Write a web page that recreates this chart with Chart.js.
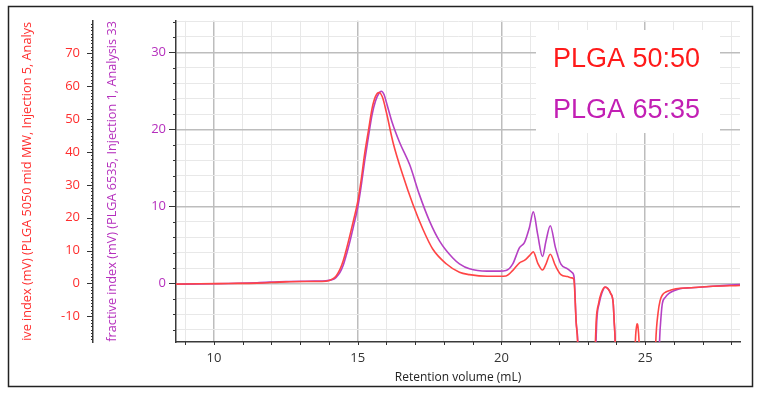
<!DOCTYPE html>
<html>
<head>
<meta charset="utf-8">
<script src="https://cdn.jsdelivr.net/npm/chart.js@4.4.1/dist/chart.umd.min.js"></script>
<style>
html,body{margin:0;padding:0;background:#fff;}
#wrap{position:relative;width:757px;height:394px;}
</style>
</head>
<body>
<div id="wrap"><canvas id="c" width="757" height="394"></canvas></div>
<script>
// ---- Data (retention volume in mL, signal in mV) ----
const redX = [8.68,9.5,10.5,11.5,12.5,13.5,13.9,14.13,14.25,14.38,14.5,14.62,14.74,14.86,15.0,15.12,15.24,15.38,15.5,15.62,15.74,15.86,16.0,16.23,16.57,16.92,17.27,17.61,18.08,18.54,18.89,19.5,19.93,20.16,20.39,20.63,20.8,20.97,21.11,21.26,21.43,21.55,21.7,21.88,22.07,22.3,22.45,22.52,22.6,22.65,22.75,23.1,23.2,23.27,23.3,23.38,23.47,23.6,23.8,23.89,23.92,23.96,24.05,24.4,24.62,24.66,24.7,24.72,24.75,24.79,24.85,25.2,25.32,25.37,25.45,25.52,25.6,25.72,25.9,26.07,26.6,27.22,28.3];
const redY = [-0.2,-0.1,0,0.1,0.5,0.6,0.7,1.4,2.3,4.2,7.0,10.8,15.0,19.4,24.8,31.4,39.3,46.8,53.2,56.9,58.1,56.7,52.0,42.9,33.0,24.1,16.5,10.5,6.0,3.4,2.7,2.2,2.2,2.3,3.9,6.3,7.0,8.4,9.6,6.3,4.1,5.9,8.9,5.4,2.7,2.1,1.7,1.2,-11.7,-17.8,-47,-70,-35,-17.8,-11,-6.1,-3.0,-1.1,-3.0,-6.1,-11,-17.8,-47,-70,-35,-17.8,-13.1,-12.3,-13.1,-17.8,-35,-70,-35,-17.8,-8.9,-5.2,-3.5,-2.6,-2.0,-1.6,-1.3,-0.9,-0.6];
const purpleX = [8.68,9.5,10.5,11.5,12.5,13.5,13.9,14.13,14.25,14.38,14.5,14.62,14.74,14.86,15.0,15.12,15.24,15.38,15.5,15.62,15.74,15.82,15.92,16.0,16.2,16.46,16.81,17.15,17.5,17.85,18.31,18.54,18.89,19.5,19.93,20.16,20.39,20.63,20.8,20.97,21.11,21.26,21.43,21.55,21.7,21.88,22.07,22.3,22.45,22.53,22.6,22.66,22.75,23.1,23.22,23.29,23.32,23.4,23.49,23.61,23.8,23.89,23.92,23.96,24.05,24.8,25.35,25.45,25.5,25.56,25.6,25.7,25.83,26.0,26.18,26.6,27.22,28.3];
const purpleY = [-0.1,-0.05,0,0.1,0.25,0.3,0.35,0.5,0.8,1.4,2.4,3.9,5.6,7.5,9.8,12.6,15.8,19.2,21.9,23.7,24.7,24.96,24.5,23.5,20.9,18.3,15.4,11.5,8.1,5.5,3.3,2.55,1.9,1.6,1.6,1.67,2.5,4.65,5.3,7.2,9.3,6.4,3.5,5.5,7.5,4.65,2.5,1.9,1.45,0.8,-5,-7.6,-20,-30,-15,-7.6,-4.7,-2.6,-1.3,-0.47,-1.3,-2.6,-4.7,-7.6,-20,-30,-30,-15,-7.6,-4,-2.6,-1.8,-1.3,-0.95,-0.7,-0.55,-0.4,-0.13];
const seriesNames = ["PLGA 50:50", "PLGA 65:35"];
const xTitle = "Retention volume (mL)";
const redAxisTitle = "ive index (mV) (PLGA 5050 mid MW, Injection 5, Analys";
const purpleAxisTitle = "fractive index (mV) (PLGA 6535, Injection 1, Analysis 33";
const xRange = [8.68, 28.3];
const purpleRange = [-7.6, 34.1];
const redRange = [-17.8, 79.9];

const RED = '#ff4545', PURPLE = '#b541c4';
const RED_TXT = '#ff2e2e', PURPLE_TXT = '#b52fbd';
const FONT = "'Open Sans', 'DejaVu Sans', sans-serif";

function pts(xs, ys){ return xs.map((x,i)=>({x:x, y:ys[i]})); }

const decor = {
  id:'decor',
  beforeDraw(chart){
    const ctx = chart.ctx;
    ctx.save();
    ctx.fillStyle='#fff';
    ctx.fillRect(0,0,chart.width,chart.height);
    ctx.restore();
  },
  afterDraw(chart){
    const ctx = chart.ctx;
    const ca = chart.chartArea;
    const sx = chart.scales.x, sp = chart.scales.yP, sr = chart.scales.yR;
    ctx.save();
    ctx.strokeStyle = '#333';
    ctx.lineWidth = 1;
    for (let v = Math.ceil(sx.min); v <= sx.max; v++) {
      const px = Math.round(sx.getPixelForValue(v)) + 0.5;
      ctx.beginPath(); ctx.moveTo(px, ca.bottom); ctx.lineTo(px, ca.bottom + 3); ctx.stroke();
    }
    for (let v = Math.ceil(sp.min/2)*2; v <= sp.max; v += 2) {
      const py = Math.round(sp.getPixelForValue(v)) + 0.5;
      const len = (v % 10 === 0) ? 7 : 3;
      ctx.beginPath(); ctx.moveTo(sp.right - len, py); ctx.lineTo(sp.right, py); ctx.stroke();
    }
    for (let v = Math.ceil(sr.min); v <= sr.max; v++) {
      const py = Math.round(sr.getPixelForValue(v)) + 0.5;
      const len = (v % 10 === 0) ? 6 : 2;
      ctx.beginPath(); ctx.moveTo(sr.right - len, py); ctx.lineTo(sr.right, py); ctx.stroke();
    }
    // legend box
    ctx.fillStyle = '#fff';
    ctx.fillRect(536, 30, 184, 103);
    ctx.font = "27px 'Liberation Sans', Arial, sans-serif";
    ctx.textBaseline = 'alphabetic';
    ctx.fillStyle = '#ff1a1a';
    ctx.fillText(seriesNames[0], 553, 67);
    ctx.fillStyle = '#c21fb4';
    ctx.fillText(seriesNames[1], 553, 118);
    // frame
    ctx.strokeStyle = '#222';
    ctx.lineWidth = 1.5;
    ctx.strokeRect(8.5, 6.5, 744, 380);
    ctx.restore();
  }
};

new Chart(document.getElementById('c'), {
  type: 'line',
  data: {
    datasets: [
      { label: seriesNames[0], data: pts(redX, redY), yAxisID: 'yR', borderColor: RED, borderWidth: 1.6, pointRadius: 0, cubicInterpolationMode: 'monotone', fill: false },
      { label: seriesNames[1], data: pts(purpleX, purpleY), yAxisID: 'yP', borderColor: PURPLE, borderWidth: 1.6, pointRadius: 0, cubicInterpolationMode: 'monotone', fill: false }
    ]
  },
  options: {
    responsive: false,
    animation: false,
    layout: { padding: { left: 10, right: 17, top: 17, bottom: 7 } },
    plugins: { legend: { display: false }, tooltip: { enabled: false } },
    scales: {
      x: {
        type: 'linear', min: xRange[0], max: xRange[1],
        afterFit(s){ s.height = 45; },
        border: { color: '#3a3a3a', width: 1.5 },
        grid: {
          drawTicks: false,
          color: ctx => (ctx.tick && ctx.tick.value % 5 === 0) ? '#bdbdbd' : '#e8e8e8',
          lineWidth: ctx => (ctx.tick && ctx.tick.value % 5 === 0) ? 1.5 : 1
        },
        ticks: {
          stepSize: 1, includeBounds: false, autoSkip: false, maxRotation: 0,
          padding: 8, color: '#333', font: { family: FONT, size: 13 },
          callback: v => (v % 5 === 0) ? String(v) : ''
        },
        title: { display: true, text: xTitle, color: '#222', font: { family: FONT, size: 12 }, padding: { top: 0, bottom: 2 } }
      },
      yP: {
        type: 'linear', position: 'left', weight: 1,
        min: purpleRange[0], max: purpleRange[1],
        afterFit(s){ s.width = 83; },
        border: { color: '#3a3a3a', width: 1.5 },
        grid: {
          drawTicks: false,
          color: ctx => (ctx.tick && ctx.tick.value % 10 === 0) ? '#bdbdbd' : '#e8e8e8',
          lineWidth: ctx => (ctx.tick && ctx.tick.value % 10 === 0) ? 1.5 : 1
        },
        ticks: {
          stepSize: 2, includeBounds: false, autoSkip: false,
          padding: 10, color: PURPLE_TXT, font: { family: FONT, size: 13 },
          callback: v => (v % 10 === 0) ? String(v) : ''
        },
        title: { display: true, text: purpleAxisTitle, color: PURPLE_TXT, font: { family: FONT, size: 12.7 }, padding: { top: 12, bottom: 0 } }
      },
      yR: {
        type: 'linear', position: 'left', weight: 2,
        min: redRange[0], max: redRange[1],
        afterFit(s){ s.width = 83; },
        border: { color: '#3a3a3a', width: 1.5 },
        grid: { drawTicks: false, drawOnChartArea: false },
        ticks: {
          stepSize: 10, includeBounds: false, autoSkip: false,
          padding: 13, color: RED_TXT, font: { family: FONT, size: 13 },
          callback: v => String(v)
        },
        title: { display: true, text: redAxisTitle, color: RED_TXT, font: { family: FONT, size: 12.7 }, padding: { top: 10, bottom: 0 } }
      }
    }
  },
  plugins: [decor]
});
</script>
</body>
</html>
